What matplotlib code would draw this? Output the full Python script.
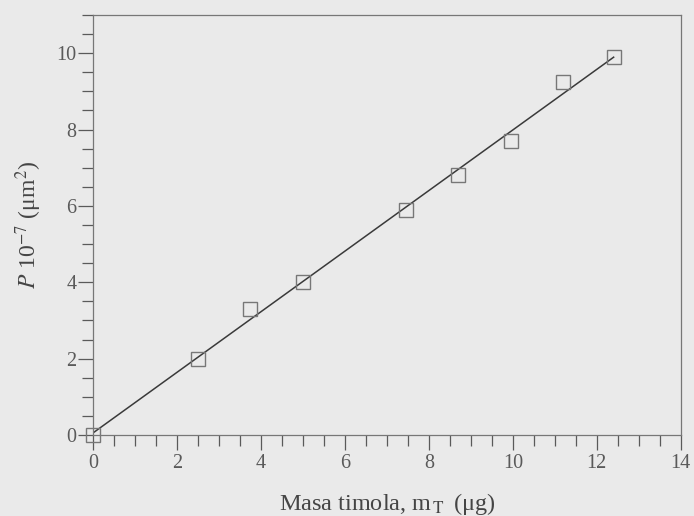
import matplotlib.pyplot as plt
import numpy as np
from matplotlib.ticker import MultipleLocator

# masa timola (ug) vs P 10^-7 (um^2)
masa = [0, 2.5, 3.75, 5.0, 7.45, 8.7, 9.95, 11.2, 12.4]
p_val = [0, 2.0, 3.3, 4.0, 5.9, 6.8, 7.7, 9.25, 9.9]
x_ticks = [0, 2, 4, 6, 8, 10, 12, 14]
y_ticks = [0, 2, 4, 6, 8, 10]

plt.rcParams['font.family'] = ['Liberation Serif', 'DejaVu Serif']
plt.rcParams['mathtext.fontset'] = 'stix'

bg = '#eaeaea'
fg = '#5a5a5a'

fig = plt.figure(figsize=(6.94, 5.16), dpi=100, facecolor=bg)
ax = fig.add_axes([0.134, 0.157, 0.847, 0.814])
ax.set_facecolor(bg)

# linear fit
k, n = np.polyfit(masa, p_val, 1)
xf = np.array([min(masa), max(masa)])
ax.plot(xf, k * xf + n, color='#3a3a3a', lw=1.1)
ax.plot(masa, p_val, ls='none', marker='s', ms=9.5, mfc='none', mec='#777777', mew=1.0,
        clip_on=False)

ax.set_xlim(0, 14)
ax.set_ylim(0, 11)
ax.set_xticks(x_ticks)
ax.set_yticks(y_ticks)
ax.xaxis.set_minor_locator(MultipleLocator(0.5))
ax.yaxis.set_minor_locator(MultipleLocator(0.5))
ax.tick_params(which='major', length=11, width=0.9, color=fg, labelcolor=fg,
               labelsize=14.5, direction='out')
ax.tick_params(which='minor', length=8, width=0.9, color=fg, direction='out')
ax.tick_params(axis='x', pad=3)
ax.tick_params(axis='y', pad=1)

for s in ax.spines.values():
    s.set_color('#777777')
    s.set_linewidth(0.9)

ax.set_xlabel('Masa timola, m$_{\\,\\mathrm{T}}\\,$ (μg)', fontsize=17.5, color='#454545', labelpad=13)
ax.set_ylabel('$P$ 10$^{\\mathrm{-7}}$ (μm$^{2}$)', fontsize=17, color='#454545', labelpad=9)

fig.savefig('out.png', dpi=100, facecolor=bg)
